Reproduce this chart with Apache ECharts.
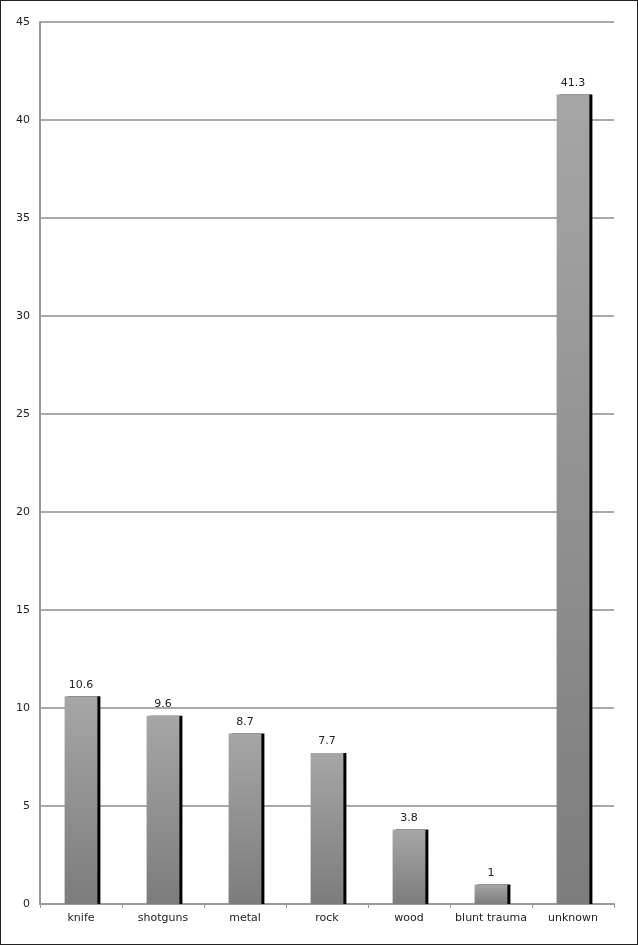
<!DOCTYPE html>
<html>
<head>
<meta charset="utf-8">
<script src="https://cdn.jsdelivr.net/npm/echarts@6/dist/echarts.min.js"></script>
<style>
  html, body { margin: 0; padding: 0; background: #fff; }
  #main { width: 636px; height: 943px; border: 1px solid #222; }
</style>
</head>
<body>
<div id="main"></div>
<script>
var categories = ['knife', 'shotguns', 'metal', 'rock', 'wood', 'blunt trauma', 'unknown'];
var values = [10.6, 9.6, 8.7, 7.7, 3.8, 1, 41.3];
var yTicks = [0, 5, 10, 15, 20, 25, 30, 35, 40, 45];

var chart = echarts.init(document.getElementById('main'));

var option = {
    animation: false,
    grid: { left: 39, right: 23, top: 21, bottom: 40 },
    xAxis: {
        type: 'category',
        data: categories,
        axisLine: { lineStyle: { color: '#999', width: 2 } },
        axisTick: { show: true, length: 4, lineStyle: { color: '#999' } },
        axisLabel: { interval: 0, color: '#222', fontSize: 11, fontFamily: 'DejaVu Sans', margin: 9 }
    },
    yAxis: {
        type: 'value',
        min: yTicks[0],
        max: yTicks[yTicks.length - 1],
        interval: 5,
        axisLine: { show: true, lineStyle: { color: '#999', width: 2 } },
        axisTick: { show: false },
        splitLine: { lineStyle: { color: '#aaa', width: 2 } },
        axisLabel: { color: '#222', fontSize: 11, fontFamily: 'DejaVu Sans', margin: 10 }
    },
    series: [{
        type: 'bar',
        data: values,
        barWidth: '40%',
        itemStyle: {
            color: new echarts.graphic.LinearGradient(0, 0, 0, 1, [
                { offset: 0, color: '#a6a6a6' },
                { offset: 1, color: '#7c7c7c' }
            ]),
            shadowColor: '#000',
            shadowOffsetX: 3,
            shadowOffsetY: 0,
            shadowBlur: 0
        },
        label: {
            show: true,
            position: 'top',
            distance: 6,
            color: '#222',
            fontSize: 11,
            fontFamily: 'DejaVu Sans'
        }
    }]
};

chart.setOption(option);
</script>
</body>
</html>
